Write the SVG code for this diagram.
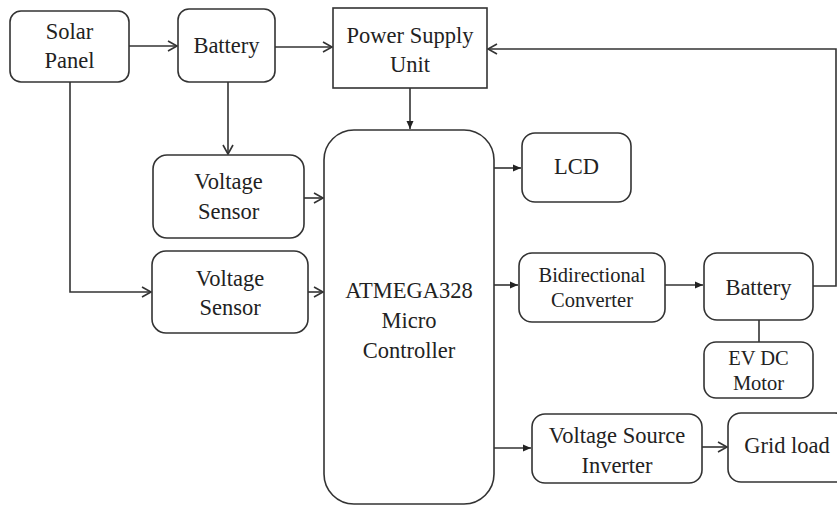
<svg xmlns="http://www.w3.org/2000/svg" width="837" height="506" viewBox="0 0 837 506">
<style>
.b{fill:#fff;stroke:#333;stroke-width:1.6}
.t{font-family:'Liberation Serif','DejaVu Serif',serif;font-size:22.5px;fill:#222;text-anchor:middle}
.s{font-size:20.5px}
.c{fill:none;stroke:#333;stroke-width:1.6}
</style>
<defs>
<marker id="o" markerWidth="12" markerHeight="12" refX="10" refY="6" orient="auto" markerUnits="userSpaceOnUse">
<path d="M1,1 L10,6 L1,11" fill="none" stroke="#333" stroke-width="1.6"/>
</marker>
<marker id="f" markerWidth="10" markerHeight="10" refX="9" refY="5" orient="auto" markerUnits="userSpaceOnUse">
<path d="M1,1.5 L9,5 L1,8.5 Z" fill="#222"/>
</marker>
</defs>
<rect width="837" height="506" fill="#fff"/>
<g id="connectors">
<path class="c" d="M129,46 H177" marker-end="url(#o)"/>
<path class="c" d="M275,47 H332" marker-end="url(#o)"/>
<path class="c" d="M813,286 H836 V49 H488" marker-end="url(#o)"/>
<path class="c" d="M410,88 V129" marker-end="url(#f)"/>
<path class="c" d="M228,82 V154" marker-end="url(#o)"/>
<path class="c" d="M70,82 V292 H151" marker-end="url(#o)"/>
<path class="c" d="M304,198 H323" marker-end="url(#o)"/>
<path class="c" d="M308,292 H323" marker-end="url(#o)"/>
<path class="c" d="M494,168 H521" marker-end="url(#f)"/>
<path class="c" d="M494,285 H518" marker-end="url(#f)"/>
<path class="c" d="M665,285 H703" marker-end="url(#f)"/>
<path class="c" d="M494,448 H531" marker-end="url(#f)"/>
<path class="c" d="M702,447 H727" marker-end="url(#o)"/>
<path class="c" d="M759,320 V342"/>
</g>
<g font-family="Liberation Serif, DejaVu Serif, serif">
<g id="solar"><rect class="b" x="10" y="11" width="119" height="71" rx="11"/><text class="t" x="69.5" y="39">Solar</text><text class="t" x="69.5" y="68">Panel</text></g>
<g id="battery1"><rect class="b" x="178" y="9" width="97" height="73" rx="11"/><text class="t" x="226.5" y="53">Battery</text></g>
<g id="psu"><rect class="b" x="333" y="8" width="154" height="80"/><text class="t" x="410" y="43">Power Supply</text><text class="t" x="410" y="72">Unit</text></g>
<g id="vs1"><rect class="b" x="153" y="155" width="151" height="83" rx="14"/><text class="t" x="228.5" y="189">Voltage</text><text class="t" x="228.5" y="219">Sensor</text></g>
<g id="vs2"><rect class="b" x="152" y="251" width="156" height="82" rx="14"/><text class="t" x="230" y="286">Voltage</text><text class="t" x="230" y="315">Sensor</text></g>
<g id="mcu"><rect class="b" x="324" y="130" width="170" height="374" rx="30"/><text class="t" x="409" y="298">ATMEGA328</text><text class="t" x="409" y="328">Micro</text><text class="t" x="409" y="358">Controller</text></g>
<g id="lcd"><rect class="b" x="522" y="133" width="109" height="69" rx="13"/><text class="t" x="576.5" y="174">LCD</text></g>
<g id="bdc"><rect class="b" x="519" y="253" width="146" height="69" rx="13"/><text class="t s" x="592" y="282">Bidirectional</text><text class="t s" x="592" y="307">Converter</text></g>
<g id="battery2"><rect class="b" x="704" y="253" width="109" height="67" rx="13"/><text class="t" x="758.5" y="295">Battery</text></g>
<g id="motor"><rect class="b" x="704" y="342" width="109" height="56" rx="12"/><text class="t s" x="758.5" y="365">EV DC</text><text class="t s" x="758.5" y="390">Motor</text></g>
<g id="vsi"><rect class="b" x="532" y="414" width="170" height="69" rx="13"/><text class="t" x="617" y="443">Voltage Source</text><text class="t" x="617" y="473">Inverter</text></g>
<g id="grid"><rect class="b" x="728" y="413" width="120" height="69" rx="13"/><text class="t" x="787" y="453">Grid load</text></g>
</g>
</svg>
